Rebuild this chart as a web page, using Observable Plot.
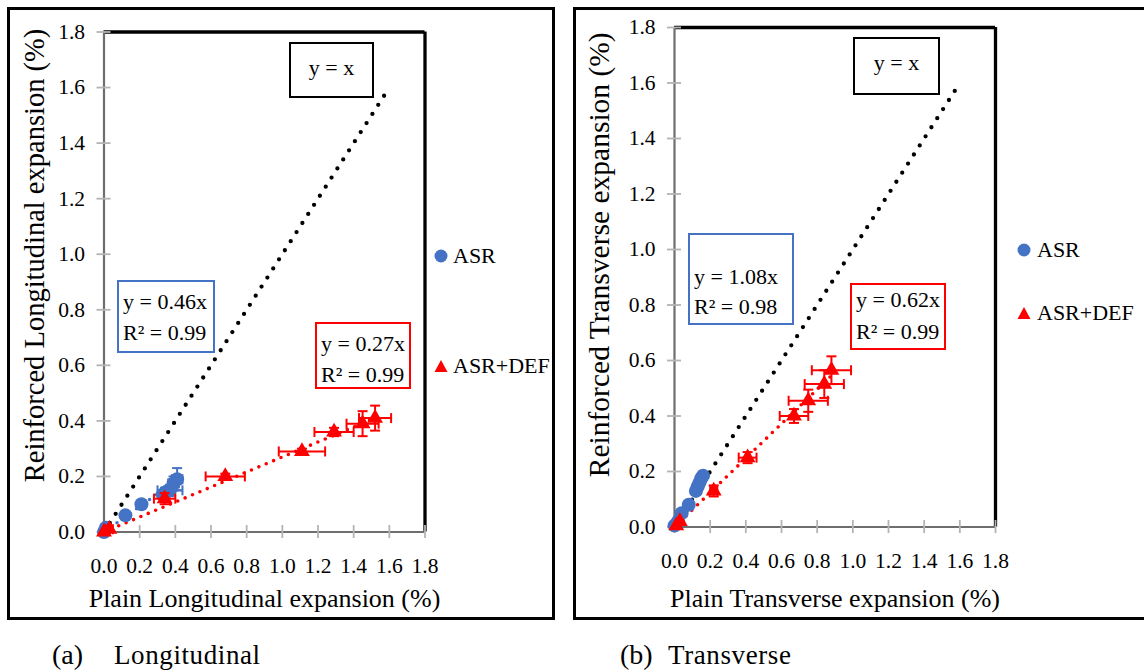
<!DOCTYPE html>
<html>
<head>
<meta charset="utf-8">
<script src="https://cdn.jsdelivr.net/npm/d3@7"></script>
<script src="https://cdn.jsdelivr.net/npm/@observablehq/plot@0.6"></script>
<style>
  body { margin: 0; background: #fff; }
  #page { position: relative; width: 1144px; height: 672px; overflow: hidden; background: #fff;
          font-family: "Liberation Serif", "Times New Roman", serif; color: #000; }
  .frame { position: absolute; border: 3.3px solid #000; box-sizing: border-box; }
  .abs { position: absolute; white-space: nowrap; }
  .box { position: absolute; box-sizing: border-box; border: 2px solid #000; background: #fff; }
  .svgwrap { position: absolute; }
</style>
</head>
<body>
<div id="page"></div>
<script>
// ---------- data ----------
const tickVals = [0, 0.2, 0.4, 0.6, 0.8, 1.0, 1.2, 1.4, 1.6, 1.8];
const tickLabels = ["0.0", "0.2", "0.4", "0.6", "0.8", "1.0", "1.2", "1.4", "1.6", "1.8"];

const seriesNames = ["ASR", "ASR+DEF"];
const seriesColors = ["#4472C4", "#FF0000"];

// (a) Longitudinal
const longAsrPlain = [0.00, 0.01, 0.12, 0.21, 0.33, 0.35, 0.37, 0.39, 0.41];
const longAsrReinf = [0.00, 0.015, 0.06, 0.10, 0.135, 0.145, 0.15, 0.175, 0.19];
const longAsrXErr = [0, 0, 0, 0, 0.02, 0.03, 0.07, 0.03, 0.03];
const longAsrYErr = [0, 0, 0, 0, 0.01, 0.015, 0.02, 0.025, 0.04];
const longDefPlain = [0.00, 0.03, 0.34, 0.68, 1.11, 1.29, 1.45, 1.52];
const longDefReinf = [0.00, 0.01, 0.12, 0.20, 0.29, 0.36, 0.39, 0.41];
const longDefXErr = [0, 0.02, 0.06, 0.11, 0.13, 0.11, 0.09, 0.09];
const longDefYErr = [0, 0, 0.02, 0.01, 0.01, 0.015, 0.045, 0.045];
const longFitSlopes = [1.00, 0.46, 0.27];    // y = x, ASR, ASR+DEF
const longFitXMax = [1.58, 0.41, 1.52];
const longEquations = [["y = x"], ["y = 0.46x", "R² = 0.99"], ["y = 0.27x", "R² = 0.99"]];
const longXTitle = "Plain Longitudinal expansion (%)";
const longYTitle = "Reinforced Longitudinal expansion (%)";

// (b) Transverse
const tranAsrPlain = [0.00, 0.02, 0.04, 0.08, 0.12, 0.13, 0.14, 0.15, 0.16];
const tranAsrReinf = [0.005, 0.02, 0.05, 0.08, 0.13, 0.145, 0.16, 0.175, 0.185];
const tranAsrXErr = [0, 0, 0, 0, 0, 0, 0, 0, 0];
const tranAsrYErr = [0, 0, 0, 0, 0, 0, 0, 0, 0];
const tranDefPlain = [0.01, 0.03, 0.22, 0.41, 0.67, 0.75, 0.84, 0.88];
const tranDefReinf = [0.005, 0.02, 0.13, 0.25, 0.40, 0.455, 0.515, 0.565];
const tranDefXErr = [0, 0, 0.02, 0.05, 0.08, 0.11, 0.11, 0.11];
const tranDefYErr = [0, 0, 0.02, 0.02, 0.025, 0.04, 0.05, 0.05];
const tranFitSlopes = [1.00, 1.08, 0.62];
const tranFitXMax = [1.60, 0.16, 0.88];
const tranEquations = [["y = x"], ["y = 1.08x", "R² = 0.98"], ["y = 0.62x", "R² = 0.99"]];
const tranXTitle = "Plain Transverse expansion (%)";
const tranYTitle = "Reinforced Transverse expansion (%)";

const captions = [["(a)", "Longitudinal"], ["(b)", "Transverse"]];

// ---------- helpers ----------
const FONT = '"Liberation Serif", "Times New Roman", serif';
const fmt = d => { const i = tickVals.indexOf(d); return i >= 0 ? tickLabels[i] : d3.format(".1f")(d); };
const rows = (xs, ys, xe, ye) => xs.map((x, i) => ({x, y: ys[i], xe: xe[i], ye: ye[i]}));
const capV = {draw(c, s) { const r = Math.sqrt(s / Math.PI); c.moveTo(0, -r); c.lineTo(0, r); }};
const capH = {draw(c, s) { const r = Math.sqrt(s / Math.PI); c.moveTo(-r, 0); c.lineTo(r, 0); }};
const fitLine = (k, xmax) => [0, xmax].map(x => ({x, y: k * x}));

function errMarks(data, color) {
  const ex = data.filter(d => d.xe > 0), ey = data.filter(d => d.ye > 0);
  return [
    Plot.link(ex, {x1: d => d.x - d.xe, x2: d => d.x + d.xe, y1: "y", y2: "y", stroke: color, strokeWidth: 2}),
    Plot.link(ey, {x1: "x", x2: "x", y1: d => d.y - d.ye, y2: d => d.y + d.ye, stroke: color, strokeWidth: 2}),
    Plot.dot(ex, {x: d => d.x - d.xe, y: "y", symbol: capV, r: 5, stroke: color, strokeWidth: 2, fill: "none"}),
    Plot.dot(ex, {x: d => d.x + d.xe, y: "y", symbol: capV, r: 5, stroke: color, strokeWidth: 2, fill: "none"}),
    Plot.dot(ey, {x: "x", y: d => d.y - d.ye, symbol: capH, r: 5, stroke: color, strokeWidth: 2, fill: "none"}),
    Plot.dot(ey, {x: "x", y: d => d.y + d.ye, symbol: capH, r: 5, stroke: color, strokeWidth: 2, fill: "none"})
  ];
}

function makePanel(o) {
  const asr = rows(o.asrX, o.asrY, o.asrXE, o.asrYE);
  const def = rows(o.defX, o.defY, o.defXE, o.defYE);
  return Plot.plot({
    width: o.w, height: o.h,
    marginLeft: o.ml, marginRight: o.mr, marginTop: o.mt, marginBottom: o.mb,
    x: {domain: [0, 1.8], label: null},
    y: {domain: [0, 1.8], label: null},
    style: {fontFamily: FONT, fontSize: "21.5px", color: "#000", background: "transparent", overflow: "visible"},
    marks: [
      // plot-area border (top/right black) and axes (left/bottom grey)
      Plot.ruleY([1.8], {stroke: "#000", strokeWidth: 3.3}),
      Plot.ruleX([1.8], {stroke: "#000", strokeWidth: 3.3}),
      Plot.ruleX([0], {stroke: "#6e6e6e", strokeWidth: 2.2}),
      Plot.ruleY([0], {stroke: "#6e6e6e", strokeWidth: 2.2}),
      Plot.axisX({ticks: tickVals, tickSize: 13, dy: -6.5, tickFormat: () => "", stroke: "#b4b4b4", strokeWidth: 1.8, label: null}),
      Plot.axisY({ticks: tickVals, tickSize: 14, dx: 7, tickFormat: () => "", stroke: "#b4b4b4", strokeWidth: 1.8, label: null}),
      Plot.axisX({ticks: tickVals, tickSize: 0, tickPadding: 25.5, tickFormat: fmt, label: null}),
      Plot.axisY({ticks: tickVals, tickSize: 0, tickPadding: 19, tickFormat: fmt, label: null}),
      // fitted lines
      Plot.line(fitLine(o.slopes[0], o.xmax[0]), {x: "x", y: "y", stroke: "#000", strokeWidth: 4.3, strokeDasharray: "0 10.8", strokeLinecap: "round"}),
      Plot.line(fitLine(o.slopes[1], o.xmax[1]), {x: "x", y: "y", stroke: seriesColors[0], strokeWidth: 3.5, strokeDasharray: "0 8", strokeLinecap: "round"}),
      Plot.line(fitLine(o.slopes[2], o.xmax[2]), {x: "x", y: "y", stroke: seriesColors[1], strokeWidth: 3.6, strokeDasharray: "0 8", strokeLinecap: "round"}),
      // ASR
      ...errMarks(asr, seriesColors[0]),
      Plot.dot(asr, {x: "x", y: "y", r: 7, fill: seriesColors[0], stroke: "none"}),
      // ASR+DEF
      ...errMarks(def, seriesColors[1]),
      Plot.dot(def, {x: "x", y: "y", symbol: "triangle", r: 5.9, fill: seriesColors[1], stroke: "none"}),
      // axis titles
      Plot.text([o.xTitle], {frameAnchor: "bottom", dy: o.xTitleDy, lineAnchor: "bottom", textAnchor: "middle", fontSize: 26}),
      Plot.text([o.yTitle], {frameAnchor: "left", rotate: -90, dx: o.yTitleDx, dy: o.yTitleDy, lineAnchor: "bottom", textAnchor: "middle", fontSize: o.yTitleSize})
    ]
  });
}

// ---------- layout ----------
const page = document.getElementById("page");
function add(tag, cls, style, html) {
  const el = document.createElement(tag);
  if (cls) el.className = cls;
  Object.assign(el.style, style);
  if (html != null) el.textContent = html;
  page.appendChild(el);
  return el;
}

// outer frames
add("div", "frame", {left: "7px", top: "7px", width: "548px", height: "613px"});
add("div", "frame", {left: "573px", top: "7px", width: "600px", height: "613px"});

const panels = [
  {left: 10, top: 10, w: 426, h: 600, ml: 93.5, mr: 11.5, mt: 21.5, mb: 78.5,
   asrX: longAsrPlain, asrY: longAsrReinf, asrXE: longAsrXErr, asrYE: longAsrYErr,
   defX: longDefPlain, defY: longDefReinf, defXE: longDefXErr, defYE: longDefYErr,
   slopes: longFitSlopes, xmax: longFitXMax, xTitle: longXTitle, yTitle: longYTitle,
   xTitleDy: 74.5, yTitleDx: -60.5, yTitleDy: -26.5, yTitleSize: 28.5},
  {left: 577, top: 10, w: 430, h: 600, ml: 97, mr: 12, mt: 17, mb: 83.5,
   asrX: tranAsrPlain, asrY: tranAsrReinf, asrXE: tranAsrXErr, asrYE: tranAsrYErr,
   defX: tranDefPlain, defY: tranDefReinf, defXE: tranDefXErr, defYE: tranDefYErr,
   slopes: tranFitSlopes, xmax: tranFitXMax, xTitle: tranXTitle, yTitle: tranYTitle,
   xTitleDy: 79.5, yTitleDx: -66, yTitleDy: -22.5, yTitleSize: 29.5}
];
panels.forEach(p => {
  const wrap = add("div", "svgwrap", {left: p.left + "px", top: p.top + "px"});
  wrap.appendChild(makePanel(p));
});

// equation boxes
const boxLayouts = [
  [ // longitudinal
    {l: 289, t: 42, w: 85, h: 56, c: [68], color: "#000", center: true},
    {l: 117, t: 280, w: 98, h: 73, c: [302, 333], color: seriesColors[0]},
    {l: 315, t: 322, w: 96, h: 67, c: [344, 375], color: seriesColors[1]}
  ],
  [ // transverse
    {l: 853, t: 37, w: 87, h: 58, c: [63], color: "#000", center: true},
    {l: 688, t: 233, w: 106, h: 92, c: [277, 307], color: seriesColors[0]},
    {l: 850, t: 283, w: 96, h: 67, c: [300, 332], color: seriesColors[1]}
  ]
];
const eqSets = [longEquations, tranEquations];
boxLayouts.forEach((set, pi) => set.forEach((b, bi) => {
  add("div", "box", {left: b.l + "px", top: b.t + "px", width: b.w + "px", height: b.h + "px", borderColor: b.color});
  eqSets[pi][bi].forEach((txt, li) => {
    const st = {top: (b.c[li] - 15) + "px", lineHeight: "30px", fontSize: "22px"};
    if (b.center) { st.left = b.l + "px"; st.width = b.w + "px"; st.textAlign = "center"; }
    else { st.left = (b.l + 6) + "px"; }
    add("div", "abs", st, txt);
  });
}));

// legends
const legendLayouts = [
  {mx: 441, tx: 453, ys: [256, 366]},
  {mx: 1024, tx: 1037, ys: [250, 313]}
];
legendLayouts.forEach(L => {
  seriesNames.forEach((name, i) => {
    const svgNS = "http://www.w3.org/2000/svg";
    const s = document.createElementNS(svgNS, "svg");
    s.setAttribute("width", 16); s.setAttribute("height", 16);
    s.style.position = "absolute"; s.style.left = (L.mx - 8) + "px"; s.style.top = (L.ys[i] - 8) + "px";
    const shape = i === 0 ? document.createElementNS(svgNS, "circle") : document.createElementNS(svgNS, "path");
    if (i === 0) { shape.setAttribute("cx", 8); shape.setAttribute("cy", 8); shape.setAttribute("r", 6.5); }
    else { shape.setAttribute("d", "M8,2 L14.5,14 L1.5,14 Z"); }
    shape.setAttribute("fill", seriesColors[i]);
    s.appendChild(shape);
    page.appendChild(s);
    add("div", "abs", {left: L.tx + "px", top: (L.ys[i] - 15) + "px", lineHeight: "30px", fontSize: "22px"}, name);
  });
});

// captions
const capLayouts = [{x1: 52, x2: 114}, {x1: 620, x2: 668}];
captions.forEach((c, i) => {
  add("div", "abs", {left: capLayouts[i].x1 + "px", top: "639px", lineHeight: "32px", fontSize: "28px"}, c[0]);
  add("div", "abs", {left: capLayouts[i].x2 + "px", top: "639px", lineHeight: "32px", fontSize: "27px", letterSpacing: "0.6px"}, c[1]);
});
</script>
</body>
</html>
